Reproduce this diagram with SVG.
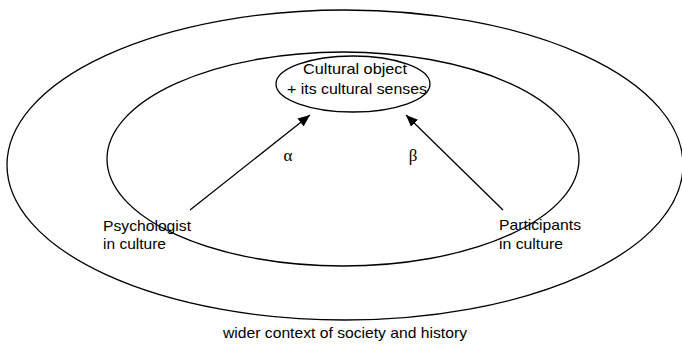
<svg xmlns="http://www.w3.org/2000/svg" width="682" height="344" viewBox="0 0 682 344">
<style>
.ring{fill:none;stroke:#000;stroke-width:1.3}
.t{font-family:"Liberation Sans",Arial,sans-serif;font-size:15px;fill:#000}
.g{font-family:"Liberation Serif","Times New Roman",serif;font-size:17px;fill:#000}
.c{stroke:#000;stroke-width:1.3;fill:none}
</style>
<defs>
<marker id="ah" viewBox="0 0 12 10" refX="12" refY="5" markerWidth="12" markerHeight="10" markerUnits="userSpaceOnUse" orient="auto">
<path d="M0,0 L12,5 L0,10 Z" fill="#000"/>
</marker>
</defs>
<rect width="682" height="344" fill="#fff"/>
<g id="outer">
<ellipse class="ring" cx="345" cy="165" rx="338" ry="155"/>
<text class="t" x="345" y="338" text-anchor="middle" textLength="244" lengthAdjust="spacingAndGlyphs">wider context of society and history</text>
</g>
<g id="inner">
<ellipse class="ring" cx="343" cy="159" rx="236" ry="107"/>
</g>
<g id="object">
<ellipse class="ring" cx="353" cy="84" rx="77" ry="28"/>
<text class="t" x="355" y="74" text-anchor="middle" textLength="104" lengthAdjust="spacingAndGlyphs">Cultural object</text>
<text class="t" x="357" y="94" text-anchor="middle" textLength="140" lengthAdjust="spacingAndGlyphs">+ its cultural senses</text>
</g>
<g id="psychologist">
<text class="t" x="103" y="231" textLength="88" lengthAdjust="spacingAndGlyphs">Psychologist</text>
<text class="t" x="103" y="249" textLength="63" lengthAdjust="spacingAndGlyphs">in culture</text>
</g>
<g id="participants">
<text class="t" x="499" y="230" textLength="82" lengthAdjust="spacingAndGlyphs">Participants</text>
<text class="t" x="499" y="249" textLength="64" lengthAdjust="spacingAndGlyphs">in culture</text>
</g>
<g id="connectors">
<line class="c" x1="190" y1="210" x2="310" y2="115" marker-end="url(#ah)"/>
<line class="c" x1="503" y1="210" x2="406" y2="115" marker-end="url(#ah)"/>
<text class="g" x="288" y="161" text-anchor="middle">α</text>
<text class="g" x="413" y="161" text-anchor="middle">β</text>
</g>
</svg>
